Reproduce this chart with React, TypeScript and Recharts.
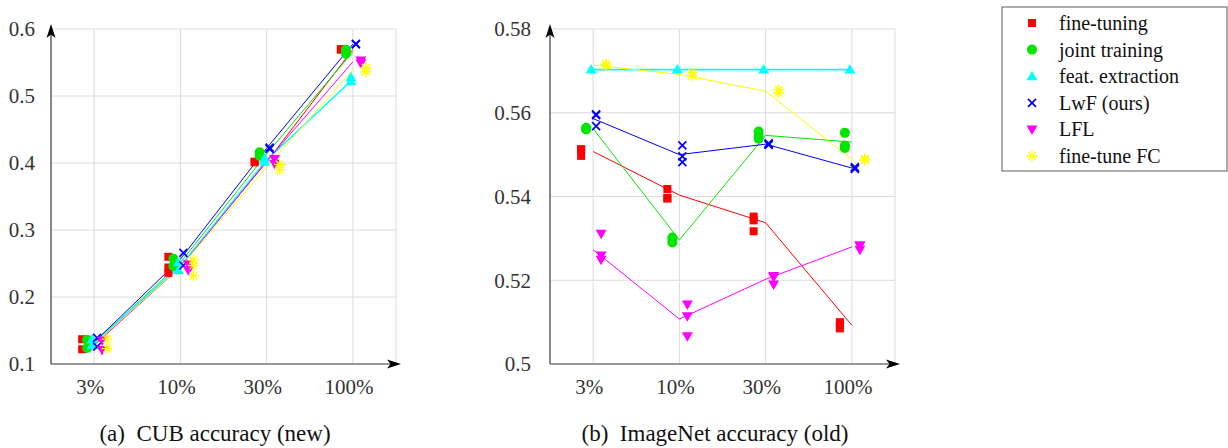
import React from 'react';
import { ComposedChart, Line, Scatter, XAxis, YAxis, CartesianGrid } from 'recharts';

const CATEGORIES = ['3%', '10%', '30%', '100%'];
const CUB_TICKS = [0.1, 0.2, 0.3, 0.4, 0.5, 0.6];
const IMAGENET_TICKS = [0.5, 0.52, 0.54, 0.56, 0.58];

// CUB accuracy (new task): one list of runs per training-set size
const cubFineTuning = [[0.137, 0.122], [0.26, 0.244, 0.236], [0.402, 0.401], [0.57, 0.569]];
const cubJoint = [[0.136, 0.124], [0.257, 0.246], [0.416, 0.411], [0.569, 0.563]];
const cubFeat = [[0.137, 0.128], [0.252, 0.24], [0.407, 0.402], [0.528, 0.522]];
const cubLwf = [[0.139, 0.126], [0.266, 0.247], [0.423, 0.421], [0.578, 0.577]];
const cubLfl = [[0.135, 0.121], [0.249, 0.24], [0.406, 0.399], [0.553, 0.549]];
const cubFc = [[0.137, 0.123], [0.255, 0.247, 0.232], [0.398, 0.39], [0.542, 0.536]];

// ImageNet accuracy (old task)
const inFineTuning = [[0.5513, 0.5512, 0.5497], [0.5418, 0.5397, 0.5395], [0.5352, 0.5343, 0.5317], [0.51, 0.5092, 0.5085]];
const inJoint = [[0.5564, 0.5562, 0.556], [0.5302, 0.5296, 0.529], [0.5555, 0.5545, 0.5538], [0.5552, 0.5522, 0.5516]];
const inFeat = [[0.5703], [0.5703], [0.5703], [0.5703]];
const inLwf = [[0.5596, 0.5594, 0.5568], [0.5522, 0.5496, 0.5482], [0.5527, 0.5525, 0.5523], [0.547, 0.5468, 0.5466]];
const inLfl = [[0.5311, 0.5259, 0.5249], [0.5142, 0.5114, 0.5066], [0.521, 0.5207, 0.519], [0.5283, 0.5283, 0.5273]];
const inFc = [[0.5716, 0.5712], [0.5695, 0.5688], [0.5655, 0.5648], [0.549, 0.5487]];

const cubRuns: Record<string, number[][]> = {
  fineTuning: cubFineTuning, joint: cubJoint, feat: cubFeat, lwf: cubLwf, lfl: cubLfl, fc: cubFc,
};
const imagenetRuns: Record<string, number[][]> = {
  fineTuning: inFineTuning, joint: inJoint, feat: inFeat, lwf: inLwf, lfl: inLfl, fc: inFc,
};

// dx = small horizontal dodge in pixels so the markers don't sit on top of each other
const METHODS = [
  { key: 'fineTuning', name: 'fine-tuning', color: '#ff0000', marker: 'square', dx: -12 },
  { key: 'joint', name: 'joint training', color: '#00e600', marker: 'circle', dx: -7 },
  { key: 'feat', name: 'feat. extraction', color: '#00ffff', marker: 'triangle', dx: -2 },
  { key: 'lwf', name: 'LwF (ours)', color: '#0000ff', marker: 'cross', dx: 3 },
  { key: 'lfl', name: 'LFL', color: '#ff00ff', marker: 'triangleDown', dx: 8 },
  { key: 'fc', name: 'fine-tune FC', color: '#ffff00', marker: 'asterisk', dx: 13 },
];

const FONT = "'Liberation Serif', Tinos, 'Times New Roman', Times, 'DejaVu Serif', 'Noto Serif', serif";

const mean = (vals: number[]) => vals.reduce((a, b) => a + b, 0) / vals.length;
const lineData = (runs: number[][]) => runs.map((vals, i) => ({ x: i, y: mean(vals) }));
const pointData = (runs: number[][]) => runs.flatMap((vals, i) => vals.map((v) => ({ x: i, y: v })));

const drawMarker = (marker: string, color: string, cx: number, cy: number) => {
  switch (marker) {
    case 'square':
      return <rect x={cx - 4} y={cy - 4} width={8} height={8} fill={color} />;
    case 'circle':
      return <circle cx={cx} cy={cy} r={5} fill={color} />;
    case 'triangle':
      return <path d={`M${cx},${cy - 5.5}L${cx + 5.5},${cy + 4}L${cx - 5.5},${cy + 4}Z`} fill={color} />;
    case 'triangleDown':
      return <path d={`M${cx},${cy + 5.5}L${cx + 5.5},${cy - 4}L${cx - 5.5},${cy - 4}Z`} fill={color} />;
    case 'cross':
      return (
        <path
          d={`M${cx - 4},${cy - 4}L${cx + 4},${cy + 4}M${cx - 4},${cy + 4}L${cx + 4},${cy - 4}`}
          stroke={color}
          strokeWidth={1.7}
          fill="none"
        />
      );
    case 'asterisk': {
      const r = 5.5;
      const arms = [0, 45, 90, 135].map((deg) => {
        const a = (deg * Math.PI) / 180;
        return `M${cx - r * Math.cos(a)},${cy - r * Math.sin(a)}L${cx + r * Math.cos(a)},${cy + r * Math.sin(a)}`;
      });
      return <path d={arms.join('')} stroke={color} strokeWidth={1.3} fill="none" />;
    }
    default:
      return <g />;
  }
};

interface AccuracyChartProps {
  runs: Record<string, number[][]>;
  ticks: number[];
  yWidth: number;
  tickGap: number;
}

const AccuracyChart: React.FC<AccuracyChartProps> = ({ runs, ticks, yWidth, tickGap }) => {
  return (
    <ComposedChart
      width={yWidth + 369}
      height={400}
      margin={{ top: 29, right: 24, bottom: 0, left: 0 }}
      style={{ fontFamily: FONT }}
    >
      <CartesianGrid stroke="#dcdcdc" strokeWidth={1} />
      <XAxis
        type="number"
        dataKey="x"
        domain={[-0.5, 3.5]}
        ticks={[0, 1, 2, 3]}
        allowDataOverflow
        height={36}
        tickFormatter={(v) => CATEGORIES[v]}
        tickSize={0}
        tickMargin={15}
        tick={{ fill: '#333', fontSize: 21, fontFamily: FONT, dx: -4 }}
        axisLine={{ stroke: '#444', strokeWidth: 1.2, markerEnd: 'url(#axisArrow)' }}
      />
      <YAxis
        type="number"
        dataKey="y"
        domain={[ticks[0], ticks[ticks.length - 1]]}
        ticks={ticks}
        allowDataOverflow
        width={yWidth}
        tickSize={0}
        tickMargin={tickGap}
        tick={{ fill: '#333', fontSize: 21, fontFamily: FONT }}
        axisLine={{ stroke: '#444', strokeWidth: 1.2, markerStart: 'url(#axisArrow)' }}
      />
      {METHODS.map((m) => (
        <Line
          key={`line-${m.key}`}
          data={lineData(runs[m.key])}
          dataKey="y"
          type="linear"
          stroke={m.color}
          strokeWidth={m.key === 'feat' ? 1.6 : 1}
          dot={false}
          activeDot={false}
          legendType="none"
          isAnimationActive={false}
        />
      ))}
      {METHODS.map((m) => (
        <Scatter
          key={`pts-${m.key}`}
          data={pointData(runs[m.key])}
          dataKey="y"
          shape={(p: any) => drawMarker(m.marker, m.color, p.cx + m.dx, p.cy)}
          legendType="none"
          isAnimationActive={false}
        />
      ))}
    </ComposedChart>
  );
};

const LegendBox: React.FC = () => (
  <svg width={227} height={166} style={{ position: 'absolute', left: 1001, top: 6, fontFamily: FONT }}>
    <rect x={1} y={1} width={225} height={164} fill="#fff" stroke="#777" strokeWidth={1.2} />
    {METHODS.map((m, i) => (
      <g key={m.key}>
        {drawMarker(m.marker, m.color, 31, 17 + i * 26.6)}
        <text x={58} y={17 + i * 26.6} dominantBaseline="central" style={{ fontFamily: FONT }} fontSize={20} fill="#111">
          {m.name}
        </text>
      </g>
    ))}
  </svg>
);

const captionStyle: React.CSSProperties = {
  position: 'absolute',
  width: 320,
  top: 421,
  textAlign: 'center',
  fontFamily: FONT,
  fontSize: 23,
  lineHeight: '26px',
  color: '#111',
  whiteSpace: 'nowrap',
};

export default function App() {
  return (
    <div style={{ position: 'absolute', left: 0, top: 0, width: 1228, height: 448, background: '#fff', fontFamily: FONT }}>
      <svg width={0} height={0} style={{ position: 'absolute' }}>
        <defs>
          <marker
            id="axisArrow"
            viewBox="0 0 14 10"
            markerUnits="userSpaceOnUse"
            markerWidth={14}
            markerHeight={10}
            refX={9}
            refY={5}
            orient="auto-start-reverse"
          >
            <path d="M0,0.5L14,5L0,9.5L3.5,5Z" fill="#000" />
          </marker>
        </defs>
      </svg>
      <div style={{ position: 'absolute', left: 0, top: 0 }}>
        <AccuracyChart runs={cubRuns} ticks={CUB_TICKS} yWidth={51} tickGap={16} />
      </div>
      <div style={{ position: 'absolute', left: 470, top: 0 }}>
        <AccuracyChart runs={imagenetRuns} ticks={IMAGENET_TICKS} yWidth={80} tickGap={19} />
      </div>
      <LegendBox />
      <div style={{ ...captionStyle, left: 215 - 160 }}>(a)&nbsp; CUB accuracy (new)</div>
      <div style={{ ...captionStyle, left: 715 - 160 }}>(b)&nbsp; ImageNet accuracy (old)</div>
    </div>
  );
}
